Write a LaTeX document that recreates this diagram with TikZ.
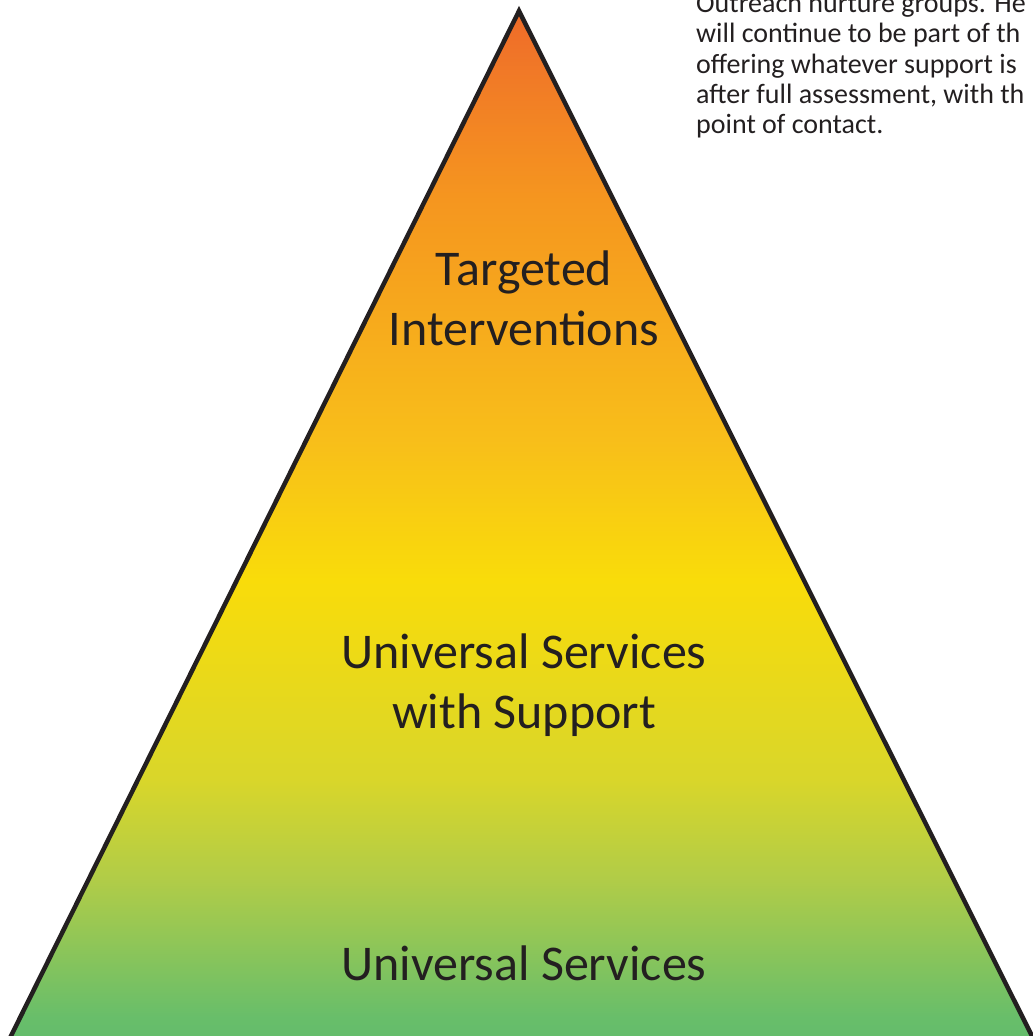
\documentclass[tikz,border=0pt]{standalone}
\usepackage{fontspec}
\setmainfont{Carlito}
\usetikzlibrary{positioning}

\definecolor{inkline}{HTML}{231F20}
\definecolor{inktext}{HTML}{231F20}
\definecolor{lvtop}{HTML}{EF6A28}
\definecolor{lvorange}{HTML}{F07428}
\definecolor{lvamber}{HTML}{F5961F}
\definecolor{lvgold}{HTML}{F8BE1A}
\definecolor{lvyellow}{HTML}{F9DC0A}
\definecolor{lvlime}{HTML}{D9D62A}
\definecolor{lvleaf}{HTML}{B0CC48}
\definecolor{lvgreen}{HTML}{68BE6A}
\definecolor{lvbase}{HTML}{62BC6C}

\pgfdeclareverticalshading{pyramidfill}{100bp}{%
  color(0bp)=(lvbase); color(25bp)=(lvbase);
  color(26.4bp)=(lvgreen); color(33bp)=(lvleaf);
  color(37.9bp)=(lvlime); color(47.5bp)=(lvyellow);
  color(54.3bp)=(lvgold); color(65.9bp)=(lvamber);
  color(73.1bp)=(lvorange); color(75bp)=(lvtop);
  color(100bp)=(lvtop)}

\tikzset{
  level/.style={font=\fontsize{50}{60}\selectfont, text=inktext,
    align=center, inner sep=0pt, anchor=base},
  sidetext/.style={font=\fontsize{28}{30.2}\selectfont, text=inktext,
    align=left, inner sep=0pt, anchor=north west}
}

\begin{document}
\begin{tikzpicture}[x=1pt,y=-1pt]
        % Step 1: fix the frame of the picture
        \useasboundingbox (0,0) rectangle (1033,1036);
        \clip (0,0) rectangle (1033,1036);

        % Step 2: corners of the pyramid
        \coordinate (apex) at (519,11);
        \coordinate (baseL) at (6,1046);
        \coordinate (baseR) at (1037,1046);

        % Step 3: fill and outline the pyramid
        \path[shading=pyramidfill] (apex) -- (baseL) -- (baseR) -- cycle;
        \draw[inkline, line width=4.5pt, line join=miter] (apex) -- (baseL) -- (baseR) -- cycle;

        % Step 4: the levels (base is the last line)
        \node[level] (targeted) at (524,345) {Targeted\\Interventions};
        \node[level] (support) at (524,728) {Universal Services\\with Support};
        \node[level] (universal) at (524,980) {Universal Services};

        % Step 5: text running beside the picture
        \node[sidetext] (outreach) at (696,-7) {Outreach nurture groups. He\\
          will continue to be part of th\\
          offering whatever support is\\
          after full assessment, with th\\
          point of contact.};
    \end{tikzpicture}
\end{document}
